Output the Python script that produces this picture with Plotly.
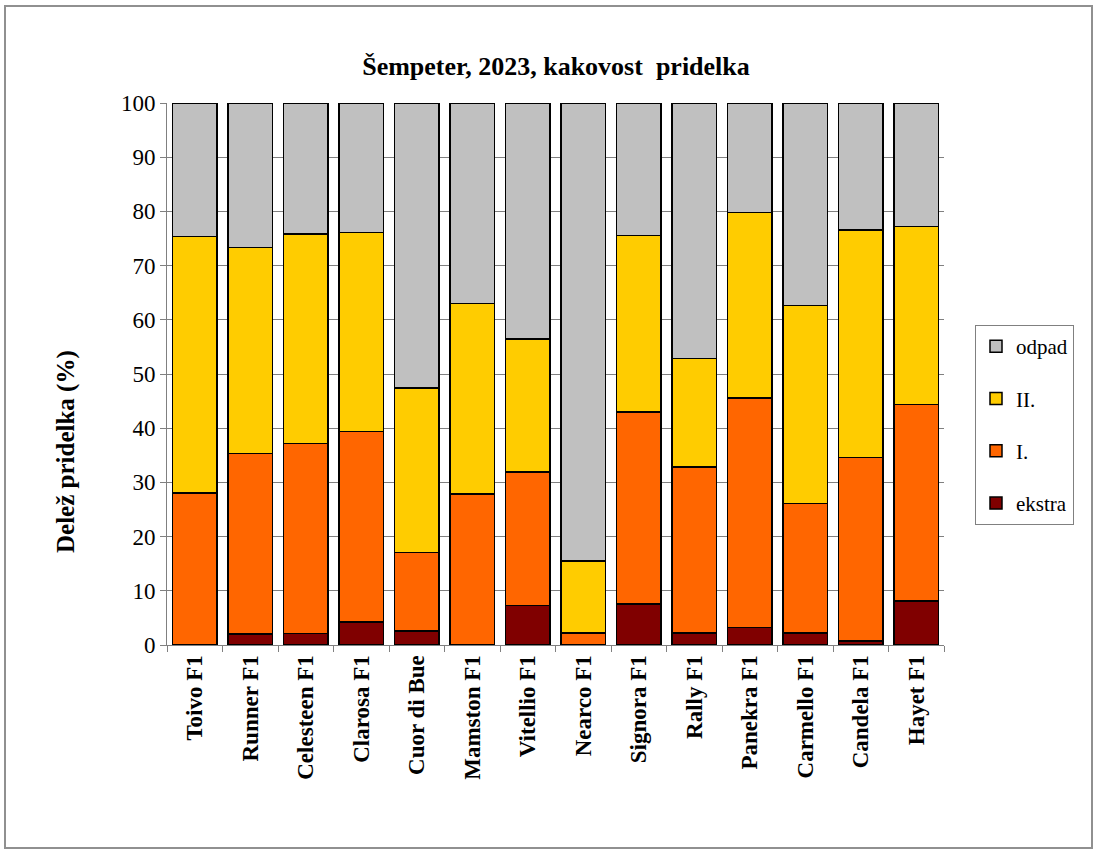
import plotly.graph_objects as go

categories = ["Toivo F1", "Runner F1", "Celesteen F1", "Clarosa F1", "Cuor di Bue",
              "Mamston F1", "Vitellio F1", "Nearco F1", "Signora F1", "Rally F1",
              "Panekra F1", "Carmello F1", "Candela F1", "Hayet F1"]

# cumulative tops
top_ekstra = [0.0, 2.0, 2.1, 4.2, 2.6, 0.0, 7.3, 0.0, 7.6, 2.2, 3.2, 2.2, 0.7, 8.1]
top_I      = [28.0, 35.3, 37.2, 39.4, 17.1, 27.9, 31.9, 2.2, 43.0, 32.8, 45.6, 26.1, 34.6, 44.4]
top_II     = [75.4, 73.3, 75.8, 76.1, 47.4, 63.0, 56.5, 15.5, 75.6, 52.9, 79.8, 62.6, 76.6, 77.2]

ekstra = top_ekstra
I_cls = [round(b - a, 1) for a, b in zip(top_ekstra, top_I)]
II_cls = [round(b - a, 1) for a, b in zip(top_I, top_II)]
odpad = [round(100 - t, 1) for t in top_II]

series_names = ["ekstra", "I.", "II.", "odpad"]
series_values = [ekstra, I_cls, II_cls, odpad]
series_colors = ["#800000", "#FF6600", "#FFCC00", "#C0C0C0"]

font = "Liberation Serif, Times New Roman, serif"

fig = go.Figure()
for i, (name, vals, col) in enumerate(zip(series_names, series_values, series_colors)):
    fig.add_trace(go.Bar(
        x=categories, y=vals, name=name, legendgroup=name,
        legendrank=100 - i,
        marker=dict(color=col, line=dict(color="#000000", width=1.5)),
    ))

W, H = 1097, 852
L, R, T, B = 167, 153, 103, 207
pw, ph = W - L - R, H - T - B

def px(x):
    return (x - L) / pw

def py(y):
    return (H - B - y) / ph

fig.update_layout(
    width=W, height=H,
    barmode="stack", bargap=0.2,
    paper_bgcolor="white", plot_bgcolor="white",
    margin=dict(l=L, r=R, t=T, b=B, autoexpand=False),
    font=dict(family=font, color="#000000", size=20),
    title=dict(text="<b>Šempeter, 2023, kakovost  pridelka</b>",
               x=556 / W, xanchor="center", y=1 - 66 / H, yanchor="middle",
               font=dict(family=font, size=26)),
    legend=dict(
        x=px(975), xanchor="left", y=py(325), yanchor="top",
        traceorder="grouped", tracegroupgap=22,
        bordercolor="#808080", borderwidth=1, bgcolor="white",
        font=dict(family=font, size=21), itemwidth=30,
    ),
    xaxis=dict(
        tickangle=-90, tickfont=dict(family=font, size=23),
        showline=True, linecolor="#808080", linewidth=1,
        ticks="outside", tickson="boundaries", ticklen=6, tickcolor="#808080",
        showgrid=False,
        tickvals=categories, ticktext=["<b>%s</b>" % c for c in categories],
    ),
    yaxis=dict(
        range=[0, 100], dtick=10, tickfont=dict(family=font, size=23),
        showline=True, linecolor="#808080", linewidth=1,
        ticks="outside", ticklen=6, tickcolor="#808080",
        showgrid=True, gridcolor="#808080", gridwidth=1,
    ),
    annotations=[dict(text="<b>Delež pridelka (%)</b>", xref="paper", yref="paper",
                      x=px(66), y=py(452), xanchor="center", yanchor="middle",
                      textangle=-90, showarrow=False,
                      font=dict(family=font, size=25))],
    shapes=[dict(type="rect", xref="paper", yref="paper",
                 x0=px(5), x1=px(1092), y0=py(848), y1=py(6),
                 line=dict(color="#909090", width=2), fillcolor="rgba(0,0,0,0)",
                 layer="below")],
)

fig.write_html("out.html", config={"displayModeBar": False},
               post_script="document.body.style.margin='0';")
